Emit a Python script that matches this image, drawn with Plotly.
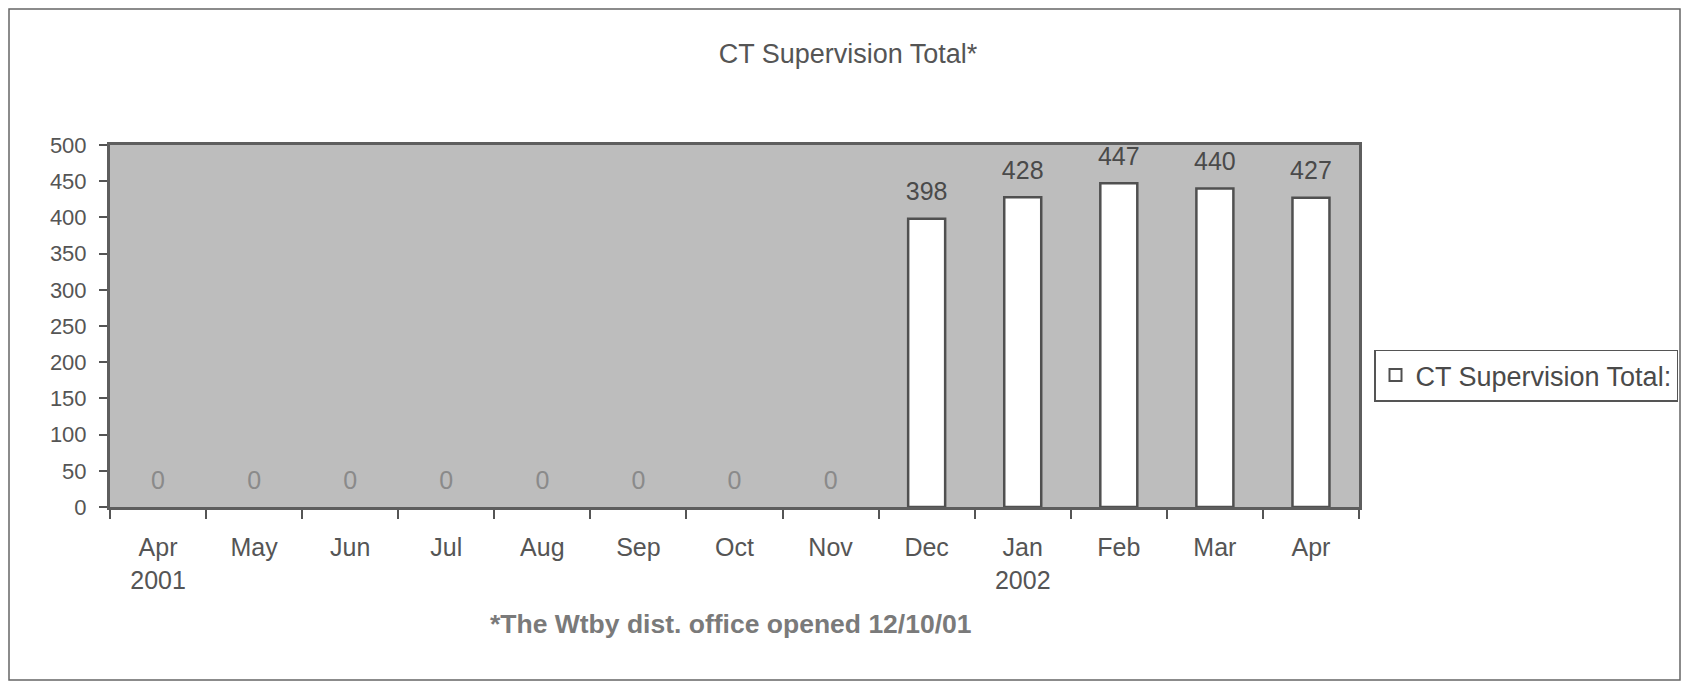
import plotly.graph_objects as go

# ---- data ----
month_keys = ["2001-04", "2001-05", "2001-06", "2001-07", "2001-08", "2001-09", "2001-10",
              "2001-11", "2001-12", "2002-01", "2002-02", "2002-03", "2002-04"]
month_labels = ["Apr<br>2001", "May", "Jun", "Jul", "Aug", "Sep", "Oct",
                "Nov", "Dec", "Jan<br>2002", "Feb", "Mar", "Apr"]
totals = [0, 0, 0, 0, 0, 0, 0, 0, 398, 428, 447, 440, 427]
y_ticks = [0, 50, 100, 150, 200, 250, 300, 350, 400, 450, 500]

series_name = "CT Supervision Total:"
title_text = "CT Supervision Total*"
footnote = "*The Wtby dist. office opened 12/10/01"

FONT = "Liberation Sans, Arial, sans-serif"
OFF = 8  # the page body margin shifts the figure by 8px
W, H = 1690 - 2 * OFF, 689 - 2 * OFF
L, T = 110 - OFF, 145 - OFF
R = W - (1359 - OFF)
B = H - (507 - OFF)
PW, PH = W - L - R, H - T - B


def px_to_paper_x(px):
    # px given in page pixels
    return (px - OFF - L) / PW


def px_to_paper_y(py):
    return (H - B - (py - OFF)) / PH


label_colors = ["#8a8a8a" if v == 0 else "#4a4a4a" for v in totals]
line_widths = [0 if v == 0 else 2.5 for v in totals]

fig = go.Figure()
fig.add_trace(go.Bar(
    x=month_keys,
    y=totals,
    name=series_name,
    marker=dict(color="white", line=dict(color="#505050", width=line_widths)),
    showlegend=False,
))
# legend entry with a visible outline
fig.add_trace(go.Bar(
    x=[month_keys[0]], y=[None],
    name=series_name,
    marker=dict(color="white", line=dict(color="#505050", width=2)),
    showlegend=True,
))
# value labels
fig.add_trace(go.Scatter(
    x=month_keys,
    y=totals,
    mode="markers+text",
    marker=dict(size=18, color="rgba(0,0,0,0)"),
    text=[str(v) for v in totals],
    textposition="top center",
    textfont=dict(family=FONT, size=25, color=label_colors),
    cliponaxis=False,
    showlegend=False,
    hoverinfo="skip",
))

fig.update_layout(
    width=W, height=H,
    margin=dict(l=L, r=R, t=T, b=B, autoexpand=False),
    paper_bgcolor="white",
    plot_bgcolor="#bdbdbd",
    bargap=0.615,
    barmode="overlay",
    font=dict(family=FONT, color="#555555"),
    title=dict(text=title_text, x=(848 - OFF) / W, xref="container", xanchor="center",
               y=1 - (54 - OFF) / H, yref="container", yanchor="middle",
               font=dict(family=FONT, size=27, color="#555555")),
    legend=dict(x=px_to_paper_x(1374), xanchor="left",
                y=px_to_paper_y(375.5), yanchor="middle",
                bordercolor="#555555", borderwidth=1.5, bgcolor="white",
                font=dict(family=FONT, size=27, color="#4a4a4a")),
    showlegend=True,
)

fig.update_xaxes(
    type="category",
    range=[-0.5, len(month_keys) - 0.5],
    tickmode="array", tickvals=month_keys, ticktext=month_labels,
    tickson="boundaries",
    ticks="outside", ticklen=9, tickcolor="#555555", tickwidth=1.5,
    ticklabelstandoff=16,
    showline=True, linecolor="#5e5e5e", linewidth=3, mirror=True,
    showgrid=False, zeroline=False,
    tickfont=dict(family=FONT, size=25, color="#555555"),
)
fig.update_yaxes(
    range=[0, 500],
    tickmode="array", tickvals=y_ticks,
    ticks="outside", ticklen=8, tickcolor="#555555", tickwidth=1.5,
    ticklabelstandoff=8,
    showline=True, linecolor="#5e5e5e", linewidth=3, mirror=True,
    showgrid=False, zeroline=False,
    tickfont=dict(family=FONT, size=22, color="#555555"),
)

# footnote
fig.add_annotation(
    text="<b>" + footnote + "</b>",
    xref="paper", yref="paper",
    x=px_to_paper_x(731), y=px_to_paper_y(624),
    xanchor="center", yanchor="middle", showarrow=False,
    font=dict(family=FONT, size=26.5, color="#7a7a7a"),
)

# outer chart border
fig.add_shape(
    type="rect", xref="paper", yref="paper",
    x0=px_to_paper_x(9), x1=px_to_paper_x(1680),
    y0=px_to_paper_y(680), y1=px_to_paper_y(9),
    line=dict(color="#666666", width=1.5), fillcolor="rgba(0,0,0,0)",
    layer="below",
)

fig.write_html("out.html")
